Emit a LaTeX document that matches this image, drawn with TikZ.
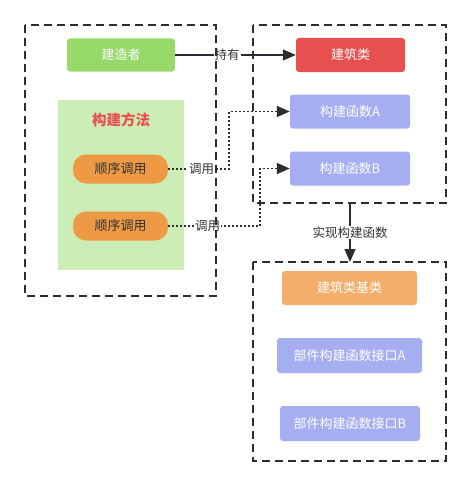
\documentclass[tikz,border=0pt]{standalone}
\usepackage{fontspec}
\setmainfont{Noto Sans CJK SC}
\usetikzlibrary{arrows.meta}
\definecolor{cgreen}{HTML}{97D96A}
\definecolor{cpanel}{HTML}{CCEDB5}
\definecolor{corange}{HTML}{EE9944}
\definecolor{cred}{HTML}{E85050}
\definecolor{cblue}{HTML}{A6AEF2}
\definecolor{cbase}{HTML}{F2AE6A}
\definecolor{cline}{HTML}{2A2E33}
\tikzset{
  frame/.style={draw=cline, line width=1.5pt, dash pattern=on 8pt off 5pt},
  box/.style={draw=none, rounded corners=3pt, text=white, font=\fontsize{13}{15}\selectfont, inner sep=0pt},
  pill/.style={draw=none, rounded corners=13pt, fill=corange, text=black!80, font=\fontsize{13}{15}\selectfont, inner sep=0pt},
  solidarrow/.style={draw=cline, line width=1.5pt, -{Triangle[length=13pt,width=11pt]}},
  dotarrow/.style={draw=cline, line width=1.5pt, dash pattern=on 2pt off 2pt, -{Triangle[length=13pt,width=11pt]}},
  lbl/.style={fill=white, inner sep=1pt, text=black!80, font=\fontsize{12.5}{14}\selectfont},
}
\begin{document}
\begin{tikzpicture}[x=1pt,y=-1pt]
\useasboundingbox (0,0) rectangle (472,487);
% panel
\fill[cpanel] (58,100) rectangle (184,270);
\node[text=cred, font=\fontsize{14.5}{16}\selectfont\bfseries] (title) at (121,120) {构建方法};
% nodes
\node[box, fill=cgreen, minimum width=108pt, minimum height=33pt] (builder) at (121,55) {建造者};
\node[pill, minimum width=95pt, minimum height=29pt] (p1) at (120.5,169) {顺序调用};
\node[pill, minimum width=95pt, minimum height=29pt] (p2) at (120.5,226) {顺序调用};
\node[box, fill=cred, minimum width=109pt, minimum height=34pt] (bldg) at (350.5,55) {建筑类};
\node[box, fill=cblue, minimum width=120pt, minimum height=34pt] (fa) at (350,111.5) {构建函数A};
\node[box, fill=cblue, minimum width=120pt, minimum height=34pt] (fb) at (350,168.5) {构建函数B};
\node[box, fill=cbase, minimum width=135pt, minimum height=34pt] (base) at (349.5,288) {建筑类基类};
\node[box, fill=cblue, minimum width=145pt, minimum height=35pt] (ia) at (349.5,355.5) {部件构建函数接口A};
\node[box, fill=cblue, minimum width=140pt, minimum height=35pt] (ib) at (350,423.5) {部件构建函数接口B};
% coordinates
\coordinate (topbot) at (350,203);
\coordinate (botop) at (350,262);
\coordinate (c1) at (229,169);
\coordinate (c2) at (260,226);
% connectors
\draw[solidarrow] (builder) -- node[lbl, pos=0.43] {持有} (bldg);
\draw[dotarrow] (p1.east) -- node[lbl, pos=0.55] {调用} (c1) |- (fa.west);
\draw[dotarrow] (p2.east) -- node[lbl, pos=0.43] {调用} (c2) |- (fb.west);
\draw[solidarrow] (topbot) -- node[lbl, pos=0.5] {实现构建函数} (botop);
% frames
\draw[frame] (25,25) rectangle (216,296);
\draw[frame] (253,25) rectangle (446,203);
\draw[frame] (253,262) rectangle (446,461);
\end{tikzpicture}
\end{document}
